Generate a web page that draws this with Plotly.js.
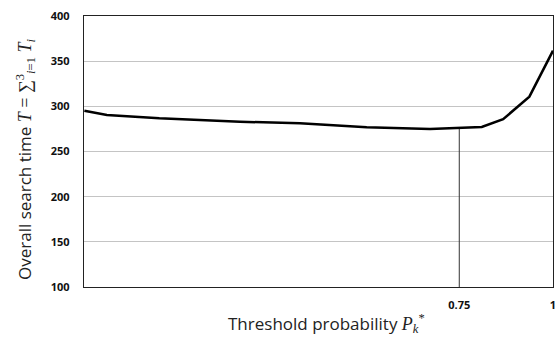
<!DOCTYPE html>
<html>
<head>
<meta charset="utf-8">
<script src="https://cdn.plot.ly/plotly-3.0.1.min.js"></script>
<style>html,body{margin:0;padding:0;background:#fff;}#chart{width:558px;height:338px;}</style>
</head>
<body>
<div id="chart"></div>
<script>
// Data
var thresholdP = [-0.25, -0.19, -0.05, 0.165, 0.325, 0.503, 0.672, 0.752, 0.81, 0.867, 0.937, 1.0];
var searchTime = [295.2, 290.4, 286.7, 283.0, 281.2, 276.8, 274.9, 276.0, 277.1, 285.8, 310.7, 361.6];
var markerX = [0.75, 0.75];
var markerY = [276.0, 100];
var xTickVals = [0.75, 1];
var xTickText = ['0.75', '1'];
var yTickVals = [100, 150, 200, 250, 300, 350, 400];

var traces = [
  {x: markerX, y: markerY, mode: 'lines', line: {color: '#333', width: 1}, hoverinfo: 'skip', showlegend: false},
  {x: thresholdP, y: searchTime, mode: 'lines', line: {color: '#000', width: 2.5}, showlegend: false}
];

var tickFont = {family: 'Open Sans, sans-serif', size: 11, color: '#111', weight: 700};
var layout = {
  width: 558, height: 338,
  margin: {l: 84, r: 5, t: 16, b: 51},
  paper_bgcolor: '#fff', plot_bgcolor: '#fff',
  showlegend: false,
  xaxis: {
    range: [-0.251, 1], tickvals: xTickVals, ticktext: xTickText,
    showgrid: false, zeroline: false, showline: true, mirror: true,
    linecolor: '#222', linewidth: 1.3, ticks: '', ticklabelstandoff: 7,
    tickfont: tickFont
  },
  yaxis: {
    range: [100, 400], tickvals: yTickVals,
    showgrid: true, gridcolor: '#c4c4c4', gridwidth: 1.3, zeroline: false,
    showline: true, mirror: true, linecolor: '#222', linewidth: 1.3,
    ticks: '', ticklabelstandoff: 11, tickfont: tickFont
  },
  annotations: [
    {xref: 'paper', yref: 'paper', x: -0.125, y: 0.47, xanchor: 'center', yanchor: 'middle',
     textangle: -90, showarrow: false,
     font: {family: 'Open Sans, sans-serif', size: 17, color: '#222'},
     text: "Overall search time <span style='font-family:Liberation Serif;font-size:18px'><i>T</i> = ∑<sup>3</sup><sub><i>i</i>=1</sub> <i>T<sub>i</sub></i></span>"},
    {xref: 'paper', yref: 'paper', x: 0.518, y: -0.135, xanchor: 'center', yanchor: 'middle',
     showarrow: false,
     font: {family: 'Open Sans, sans-serif', size: 17, color: '#222'},
     text: "Threshold probability <span style='font-family:Liberation Serif;font-size:18px'><i>P</i><sub><i>k</i></sub><sup>*</sup></span>"}
  ]
};

Plotly.newPlot('chart', traces, layout, {displayModeBar: false, staticPlot: true});
</script>
</body>
</html>
